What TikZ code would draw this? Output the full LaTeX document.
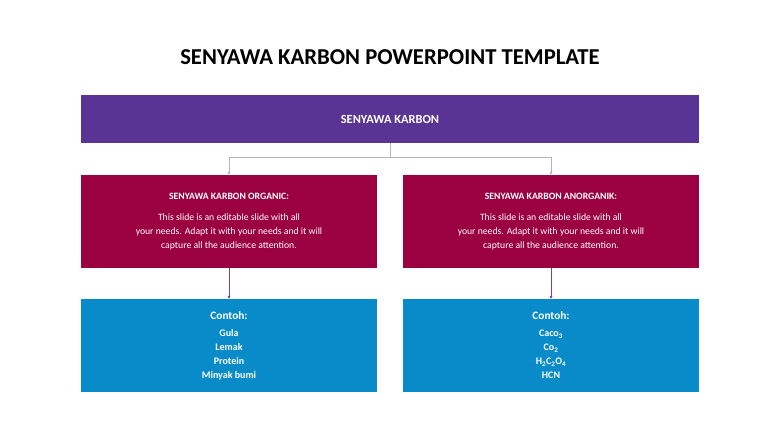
\documentclass[tikz,border=0pt]{standalone}
\usepackage{fontspec}
\setmainfont{Carlito}
\usetikzlibrary{arrows.meta}

\definecolor{karbonpurple}{HTML}{5A3494}
\definecolor{karbonred}{HTML}{9B0040}
\definecolor{karbonblue}{HTML}{0A8BC9}
\definecolor{linkgrey}{HTML}{B4B4B4}
\definecolor{sublinkcol}{HTML}{6A4AA8}

\tikzset{
    box/.style={fill=#1, text=white, align=center, inner sep=0pt, minimum width=296pt, minimum height=93pt},
    link/.style={draw=linkgrey, line width=0.8pt, -{Triangle[length=3pt, width=3pt]}},
    sublink/.style={draw=sublinkcol, line width=0.7pt, -{Triangle[length=3pt, width=3pt]}}
}

\begin{document}
\begin{tikzpicture}[x=1pt, y=1pt]
    \useasboundingbox (0,0) rectangle (780,-438);

    % Title
    \node[font=\bfseries\fontsize{22.7}{26}\selectfont] (title) at (390,-57) {SENYAWA KARBON POWERPOINT TEMPLATE};

    % Top box
    \node[box=karbonpurple, minimum width=618pt, minimum height=48pt, font=\bfseries\fontsize{12.4}{14}\selectfont] (karbon) at (390,-119) {SENYAWA KARBON};

    % Red boxes
    \node[box=karbonred, font=\fontsize{9.7}{14}\selectfont] (organic) at (229,-221.5)
        {\textbf{SENYAWA KARBON ORGANIC:}\\[7pt]This slide is an editable slide with all\\your needs. Adapt it with your needs and it will\\capture all the audience attention.};
    \node[box=karbonred, font=\fontsize{9.7}{14}\selectfont] (anorganik) at (551,-221.5)
        {\textbf{SENYAWA KARBON ANORGANIK:}\\[7pt]This slide is an editable slide with all\\your needs. Adapt it with your needs and it will\\capture all the audience attention.};

    % Blue boxes
    \node[box=karbonblue, font=\bfseries\fontsize{10}{14}\selectfont] (contohA) at (229,-345.5)
        {{\fontsize{11.3}{13}\selectfont Contoh:}\\[3pt]Gula\\Lemak\\Protein\\Minyak bumi};
    \node[box=karbonblue, font=\bfseries\fontsize{10}{14}\selectfont] (contohB) at (551,-345.5)
        {{\fontsize{11.3}{13}\selectfont Contoh:}\\[3pt]Caco\textsubscript{3}\\Co\textsubscript{2}\\H\textsubscript{2}C\textsubscript{2}O\textsubscript{4}\\HCN};

    % Connectors
    \coordinate (split) at (390,-157);
    \draw[link] (karbon.south) -- (split) -| (organic.north);
    \draw[link] (split) -| (anorganik.north);
    \draw[sublink] (organic.south) -- (contohA.north);
    \draw[sublink] (anorganik.south) -- (contohB.north);
\end{tikzpicture}
\end{document}
